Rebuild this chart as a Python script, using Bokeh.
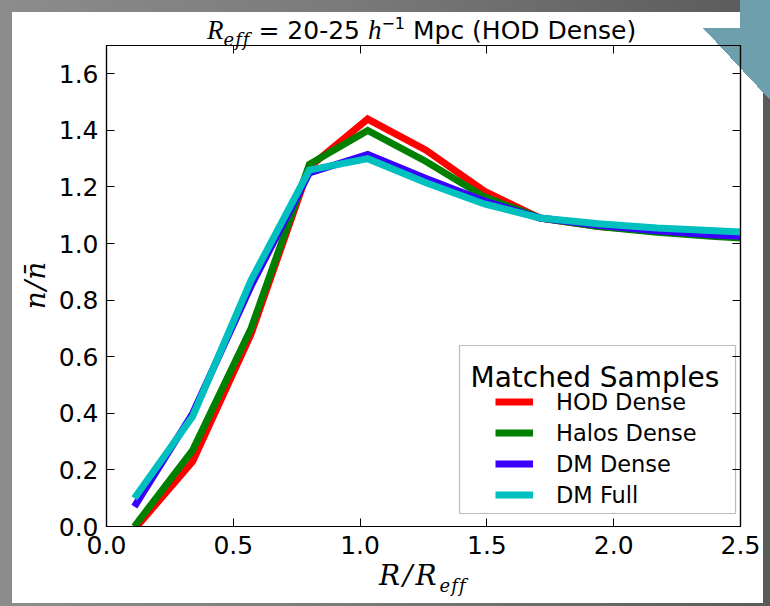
from bokeh.plotting import figure
from bokeh.models import (Range1d, LinearAxis, Label, Legend, LegendItem, BoxAnnotation,
                          FixedTicker, NumeralTickFormatter, CustomJSTickFormatter, Div)
from bokeh.layouts import column, row
from bokeh.embed import file_html
from bokeh.resources import INLINE

# ---- data ----
r_over_reff = [0.11, 0.34, 0.57, 0.80, 1.03, 1.26, 1.49, 1.71, 1.94, 2.17, 2.40, 2.63]
hod_dense   = [-0.01, 0.23, 0.68, 1.27, 1.44, 1.33, 1.185, 1.09, 1.06, 1.045, 1.03, 1.02]
halos_dense = [0.00, 0.27, 0.70, 1.28, 1.40, 1.29, 1.165, 1.09, 1.06, 1.04, 1.025, 1.012]
dm_dense    = [0.07, 0.40, 0.85, 1.25, 1.315, 1.23, 1.15, 1.09, 1.065, 1.045, 1.03, 1.02]
dm_full     = [0.10, 0.39, 0.87, 1.26, 1.30, 1.215, 1.14, 1.09, 1.07, 1.055, 1.045, 1.035]

series_names = ["HOD Dense", "Halos Dense", "DM Dense", "DM Full"]
series_values = [hod_dense, halos_dense, dm_dense, dm_full]
series_colors = ["#ff0000", "#008000", "#3a00ff", "#00bfbf"]

x_ticks = [0.0, 0.5, 1.0, 1.5, 2.0, 2.5]
y_ticks = [0.0, 0.2, 0.4, 0.6, 0.8, 1.0, 1.2, 1.4, 1.6]

TICK_FONT = "DejaVu Sans"
SERIF = "Liberation Serif"
MATH = "DejaVu Serif"
TEAL = "#6e9fad"

FIG_W, FIG_H = 709, 524
p = figure(width=FIG_W, height=FIG_H, x_range=Range1d(0, 2.5), y_range=Range1d(0, 1.7),
           output_backend="svg", toolbar_location=None,
           x_axis_type=None, y_axis_type=None, margin=0)
p.min_border_left = 52
p.min_border_right = 23
p.min_border_top = 5
p.min_border_bottom = 38
p.border_fill_alpha = 0
p.background_fill_alpha = 0
p.outline_line_color = "black"
p.outline_line_width = 1.2
p.grid.visible = False
p.title = None

def make_axis(ticks, labels):
    ax = LinearAxis(ticker=FixedTicker(ticks=ticks))
    ax.major_tick_in = 8
    ax.major_tick_out = 0
    ax.minor_tick_line_color = None
    ax.axis_line_color = "black"
    ax.axis_line_width = 1.2
    ax.major_tick_line_width = 1
    if labels:
        ax.formatter = NumeralTickFormatter(format="0.0")
        ax.major_label_text_font = TICK_FONT
        ax.major_label_text_font_size = "25px"
        ax.major_label_text_color = "black"
    else:
        ax.formatter = CustomJSTickFormatter(code="return ''")
        ax.major_label_text_font_size = "1px"
        ax.major_label_standoff = 0
    return ax

xb = make_axis(x_ticks, True)
xb.major_label_standoff = 9
yl = make_axis(y_ticks, True)
yl.major_label_standoff = 8
p.add_layout(xb, "below")
p.add_layout(yl, "left")
p.add_layout(make_axis(x_ticks, False), "above")
p.add_layout(make_axis(y_ticks, False), "right")

renderers = []
for name, vals, col in zip(series_names, series_values, series_colors):
    renderers.append(p.line(r_over_reff, vals, line_color=col, line_width=7, line_join="miter"))

# legend frame and title (figure canvas coordinates: figure starts at page x=54, y=40)
OX, OY = 54, 40
p.add_layout(BoxAnnotation(left=459 - OX, right=735 - OX, top=345 - OY, bottom=513 - OY,
                           left_units="canvas", right_units="canvas",
                           top_units="canvas", bottom_units="canvas",
                           fill_color="white", fill_alpha=1, line_color="#222222",
                           line_width=1.2, level="underlay"))
p.add_layout(Label(x=470 - OX, y=377 - OY, x_units="canvas", y_units="canvas",
                   text="Matched Samples", text_font=TICK_FONT, text_font_size="28px",
                   text_color="black", text_baseline="alphabetic"))

legend = Legend(items=[LegendItem(label=n, renderers=[r]) for n, r in zip(series_names, renderers)],
                location=(389, 16), padding=0, margin=0, spacing=0,
                glyph_width=38, glyph_height=31, label_height=31, label_standoff=23,
                border_line_alpha=0, background_fill_alpha=0,
                label_text_font=TICK_FONT, label_text_font_size="22.5px",
                label_text_color="black")
p.add_layout(legend)

# ---- title, axis labels as HTML text ----
it = "font-family:'%s'; font-style:italic;" % SERIF
mi = "font-family:'%s'; font-style:italic;" % MATH
title_html = (
    "<div style=\"position:relative; width:751px; height:28px; color:black; white-space:nowrap;\">"
    "<div style=\"position:absolute; left:195px; top:6px; font-family:'DejaVu Sans'; font-size:25px; line-height:25px;\">"
    "<span style=\"%s font-size:27px;\">R</span>"
    "<span style=\"%s font-size:18px; position:relative; top:7px; letter-spacing:1px;\">eff</span>"
    " = 20-25 "
    "<span style=\"%s font-size:27px;\">h</span>"
    "<span style=\"font-size:16px; position:relative; top:-10px;\">\u22121</span>"
    " Mpc (HOD Dense)</div></div>" % (it, mi, it)
)
title_div = Div(text=title_html, width=751, height=28, margin=0)

ylab_html = (
    "<div style=\"position:relative; width:42px; height:%dpx; color:black;\">"
    "<div style=\"position:absolute; left:24px; top:245px; transform:translate(-50%%,-50%%) rotate(-90deg);"
    " %s font-weight:300; font-size:28px; line-height:28px; letter-spacing:1px; white-space:nowrap;\">n/n\u0304</div></div>" % (FIG_H, mi)
)
ylab_div = Div(text=ylab_html, width=42, height=FIG_H, margin=0)

xlab_html = (
    "<div style=\"position:relative; width:751px; height:39px; color:black; white-space:nowrap;\">"
    "<div style=\"position:absolute; left:367px; top:-2px; %s font-size:28px; line-height:28px; letter-spacing:3px;\">"
    "R/R<span style=\"font-size:18px; position:relative; top:7px; letter-spacing:1px;\">eff</span>"
    "</div></div>" % mi
)
xlab_div = Div(text=xlab_html, width=751, height=39, margin=0)

sheet_bg = ("linear-gradient(to top right, transparent 50%, " + TEAL + " 50%) 691px 16px / 67px 72px no-repeat, "
            "linear-gradient(" + TEAL + ", " + TEAL + ") 728px 0px / 30px 16px no-repeat, white")
page_bg = ("linear-gradient(to top right, transparent 50%, " + TEAL + " 50%) 703px 28px / 67px 72px no-repeat, "
           "linear-gradient(" + TEAL + ", " + TEAL + ") 740px 0px / 30px 28px no-repeat, "
           "linear-gradient(to right, #8c8c8c 0%, #7a7a7a 45%, #5a5a5a 100%)")

sheet = column(title_div, row(ylab_div, p, margin=0, spacing=0), xlab_div,
               styles={"background": sheet_bg}, margin=0, spacing=0)
page = column(sheet, styles={"background": page_bg, "padding": "12px 7px 3px 12px"}, margin=0, spacing=0)

open("out.html", "w").write(file_html(page, INLINE))
